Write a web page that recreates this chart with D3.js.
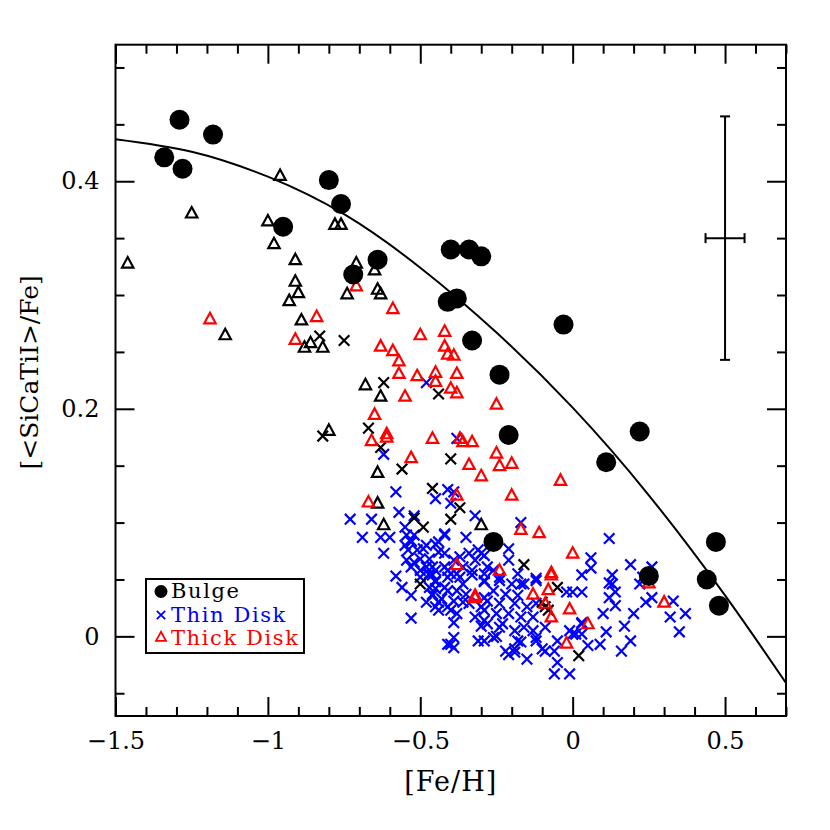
<!DOCTYPE html>
<html><head><meta charset="utf-8">
<script src="https://cdn.jsdelivr.net/npm/d3@7"></script>
<style>body{margin:0;background:#fff}</style>
</head><body><svg id="c" width="830" height="830"></svg>
<script>
// ---------- DATA ----------
const xMajorTicks = [-1.5, -1, -0.5, 0, 0.5];
const yMajorTicks = [0, 0.2, 0.4];
const xLabel = "[Fe/H]";
const yLabel = "[<SiCaTiI>/Fe]";
const legendLabels = ["Bulge", "Thin Disk", "Thick Disk"];

const bulge = [[-1.29,0.454],[-1.34,0.421],[-1.28,0.411],[-1.18,0.441],[-0.80,0.401],[-0.76,0.380],[-0.95,0.360],
[-0.64,0.331],[-0.72,0.318],[-0.40,0.340],[-0.34,0.340],[-0.30,0.334],[-0.41,0.294],[-0.38,0.297],[-0.33,0.260],
[-0.03,0.274],[-0.24,0.230],[-0.21,0.177],[0.22,0.180],[0.11,0.153],[-0.26,0.083],[0.25,0.053],[0.47,0.083],[0.44,0.050],[0.48,0.027]];

const thinDisk = [[-0.48,0.223],[-0.62,0.160],[-0.58,0.127],[-0.38,0.174],[-0.45,0.121],[-0.41,0.129],[-0.39,0.127],[-0.57,0.109],
[-0.73,0.103],[-0.66,0.103],[-0.52,0.106],[-0.40,0.117],[-0.32,0.106],[-0.17,0.100],[0.12,0.086],[-0.35,0.087],
[-0.69,0.087],[-0.63,0.087],[-0.60,0.087],[-0.62,0.073],[-0.55,0.096],[-0.545,0.089],[-0.53,0.084],[-0.55,0.080],[-0.52,0.089],
[-0.54,0.076],[-0.49,0.077],[-0.45,0.081],[-0.42,0.089],[-0.51,0.076],[-0.48,0.080],[-0.44,0.083],[-0.545,0.067],[-0.52,0.065],
[-0.47,0.068],[-0.44,0.074],[-0.53,0.061],[-0.50,0.058],[-0.46,0.061],[-0.47,0.055],[-0.45,0.049],[-0.41,0.058],[-0.45,0.042],
[-0.42,0.043],[-0.58,0.053],[-0.56,0.043],[-0.53,0.036],[-0.48,0.030],[-0.44,0.030],[-0.45,0.026],[-0.41,0.026],[-0.53,0.016],
[-0.41,-0.007],[-0.46,0.037],[-0.42,0.090],[-0.53,0.083],[-0.50,0.068],[-0.42,0.073],[-0.48,0.061],[-0.45,0.058],[-0.42,0.061],
[-0.50,0.052],[-0.47,0.054],[-0.40,0.055],[-0.47,0.043],[-0.45,0.048],[-0.41,0.040],[-0.46,0.036],[-0.43,0.033],[-0.44,0.023],
[-0.46,0.054],[-0.41,0.052],[-0.39,-0.001],[-0.39,-0.010],
[-0.39,0.067],[-0.37,0.070],[-0.34,0.073],[-0.31,0.076],[-0.32,0.067],[-0.29,0.071],[-0.36,0.061],[-0.33,0.058],[-0.29,0.055],
[-0.37,0.052],[-0.38,0.055],[-0.36,0.046],[-0.38,0.040],[-0.35,0.037],[-0.36,0.030],[-0.39,0.031],[-0.40,0.023],[-0.38,0.020],
[-0.39,0.012],[-0.33,0.054],[-0.29,0.049],[-0.30,0.026],[-0.32,0.017],[-0.29,0.014],[-0.29,0.023],[-0.31,-0.004],[-0.34,0.029],
[-0.29,0.034],[-0.30,0.073],[-0.28,0.061],[-0.26,0.058],[-0.21,0.077],[-0.21,0.067],[-0.24,0.052],[-0.17,0.046],[-0.12,0.049],
[-0.25,0.000],[-0.40,-0.007],[-0.29,0.048],[-0.24,0.049],[-0.20,0.046],[-0.16,0.046],[-0.12,0.051],[-0.18,0.055],[-0.26,0.040],
[-0.22,0.037],[-0.18,0.036],[-0.28,0.031],[-0.24,0.029],[-0.19,0.029],[-0.15,0.026],[-0.12,0.029],[-0.25,0.020],[-0.21,0.020],
[-0.17,0.017],[-0.13,0.017],[-0.28,0.011],[-0.23,0.011],[-0.30,0.009],[-0.24,0.008],[-0.19,0.005],[-0.16,0.008],[-0.13,0.005],
[-0.09,0.008],[-0.29,-0.004],[-0.26,-0.001],[-0.18,-0.004],[-0.12,-0.001],[-0.22,-0.013],[-0.19,-0.014],[-0.21,-0.016],[-0.19,-0.011],
[-0.17,-0.005],[-0.15,-0.020],[-0.12,-0.004],[-0.10,-0.011],[-0.09,-0.013],[-0.06,-0.013],[-0.05,-0.004],[-0.05,-0.023],[-0.06,-0.033],
[-0.01,-0.033],[-0.01,0.005],[0.01,0.002],
[0.03,0.054],[0.13,0.054],[0.13,0.046],[0.12,0.034],[0.14,0.027],[0.10,0.020],[0.03,0.012],[-0.02,0.039],[0.00,0.039],[0.03,0.039],
[0.20,0.020],[0.17,0.009],[0.11,0.004],[0.05,-0.008],[0.09,-0.007],[0.19,-0.004],[0.16,-0.013],[0.24,0.030],[0.26,0.034],[0.32,0.017],
[0.35,0.004],[0.37,0.020],[0.33,0.031],[0.23,0.052],[0.06,0.069],[0.06,0.060],[0.12,0.047],[0.14,0.039],[0.19,0.063],[0.22,0.046],
[0.26,0.061],[0.00,0.002],[0.03,0.002],[0.03,0.011]];

const thickDisk = [[-1.19,0.279],[-0.84,0.281],[-0.91,0.261],[-0.71,0.308],[-0.59,0.288],[-0.50,0.265],[-0.63,0.255],[-0.59,0.251],
[-0.57,0.242],[-0.57,0.231],[-0.51,0.229],[-0.45,0.232],[-0.45,0.224],[-0.55,0.211],[-0.42,0.268],[-0.42,0.255],[-0.41,0.248],
[-0.39,0.247],[-0.38,0.231],[-0.40,0.218],[-0.38,0.214],[-0.25,0.204],[-0.65,0.195],[-0.61,0.178],[-0.61,0.175],[-0.66,0.172],
[-0.46,0.174],[-0.53,0.157],[-0.37,0.174],[-0.36,0.171],[-0.33,0.171],[-0.25,0.161],[-0.34,0.151],[-0.24,0.150],[-0.20,0.152],
[-0.30,0.141],[-0.04,0.137],[-0.20,0.124],[-0.38,0.124],[-0.67,0.118],[-0.17,0.094],[-0.11,0.091],[0.00,0.073],[-0.38,0.063],
[-0.24,0.058],[-0.07,0.054],[-0.32,0.036],[-0.32,0.034],[-0.13,0.037],[-0.08,0.041],[-0.09,0.029],[-0.01,0.024],[-0.07,0.017],
[0.05,0.011],[-0.02,-0.006],[0.25,0.047],[0.30,0.030],[-0.07,0.056]];

// comparison samples drawn in black (no legend entry)
const otherThin = [[-0.83,0.264],[-0.75,0.260],[-0.62,0.223],[-0.44,0.213],[-0.82,0.176],[-0.67,0.183],[-0.63,0.166],[-0.56,0.147],
[-0.46,0.130],[-0.40,0.156],[-0.37,0.113],[-0.52,0.104],[-0.49,0.096],[-0.40,0.103],[-0.16,0.063],[-0.50,0.046],[-0.05,0.043],
[-0.10,0.030],[-0.09,0.026],[-0.08,0.023],[0.02,-0.017]];
const otherThick = [[-1.46,0.328],[-1.25,0.372],[-0.96,0.405],[-1.00,0.365],[-0.98,0.345],[-0.91,0.331],[-0.78,0.362],[-0.76,0.362],
[-0.71,0.328],[-0.65,0.322],[-0.91,0.312],[-0.90,0.302],[-0.93,0.295],[-0.74,0.301],[-0.64,0.305],[-0.63,0.301],[-1.14,0.265],
[-0.89,0.278],[-0.86,0.258],[-0.88,0.254],[-0.82,0.254],[-0.80,0.181],[-0.68,0.221],[-0.63,0.211],[-0.64,0.144],[-0.64,0.117],
[-0.62,0.098],[-0.30,0.098]];

// model curve
const curveFeH = [-1.5, -1.25, -1.0, -0.75, -0.5, -0.25, 0, 0.25, 0.5, 0.7];
const curveAlpha = [0.437, 0.426, 0.404, 0.371, 0.324, 0.267, 0.201, 0.124, 0.036, -0.041];

// typical error bar
const errCenter = [0.5, 0.35];
const errHalf = [0.064, 0.107];

// ---------- CHART ----------
const svg = d3.select("#c");
const L = 115.5, R = 786, T = 44.7, B = 716;
const x = d3.scaleLinear().domain([-1.5, 0.7]).range([L, R]);
const y = d3.scaleLinear().domain([-0.07, 0.52]).range([B, T]);
const FONT = "DejaVu Serif";
const fmt = d3.format("~g");

svg.append("rect").attr("width", 830).attr("height", 830).attr("fill", "#fff");

const xMinor = d3.range(-15, 8).map(v => v / 10).filter(v => !xMajorTicks.some(m => Math.abs(m - v) < 1e-9));
const yMinor = d3.range(-1, 11).map(v => v * 0.05).filter(v => !yMajorTicks.some(m => Math.abs(m - v) < 1e-9));

function styleAxis(g) {
  g.select(".domain").remove();
  g.selectAll("line").attr("stroke", "#000").attr("stroke-width", 2);
  g.selectAll("text").style("font-family", FONT).style("font-size", "24px").attr("fill", "#000");
}
const axes = svg.append("g");
axes.append("g").attr("transform", `translate(0,${B})`)
  .call(d3.axisBottom(x).tickValues(xMajorTicks).tickSize(-19).tickPadding(16).tickFormat(fmt)).call(styleAxis);
axes.append("g").attr("transform", `translate(0,${B})`)
  .call(d3.axisBottom(x).tickValues(xMinor).tickSize(-9).tickFormat("")).call(styleAxis);
axes.append("g").attr("transform", `translate(0,${T})`)
  .call(d3.axisTop(x).tickValues(xMajorTicks).tickSize(-19).tickFormat("")).call(styleAxis);
axes.append("g").attr("transform", `translate(0,${T})`)
  .call(d3.axisTop(x).tickValues(xMinor).tickSize(-9).tickFormat("")).call(styleAxis);
axes.append("g").attr("transform", `translate(${L},0)`)
  .call(d3.axisLeft(y).tickValues(yMajorTicks).tickSize(-19).tickPadding(16).tickFormat(fmt)).call(styleAxis);
axes.append("g").attr("transform", `translate(${L},0)`)
  .call(d3.axisLeft(y).tickValues(yMinor).tickSize(-9).tickFormat("")).call(styleAxis);
axes.append("g").attr("transform", `translate(${R},0)`)
  .call(d3.axisRight(y).tickValues(yMajorTicks).tickSize(-19).tickFormat("")).call(styleAxis);
axes.append("g").attr("transform", `translate(${R},0)`)
  .call(d3.axisRight(y).tickValues(yMinor).tickSize(-9).tickFormat("")).call(styleAxis);

svg.append("clipPath").attr("id", "clip").append("rect")
  .attr("x", L).attr("y", T).attr("width", R - L).attr("height", B - T);
const plot = svg.append("g").attr("clip-path", "url(#clip)");

const crossPath = s => `M${-s},${-s}L${s},${s}M${-s},${s}L${s},${-s}`;
const triPath = (w, h) => `M0,${-h * 0.58}L${w},${h * 0.42}L${-w},${h * 0.42}Z`;

function crosses(data, color, s) {
  plot.append("g").selectAll("path").data(data).join("path")
    .attr("transform", d => `translate(${x(d[0])},${y(d[1])})`)
    .attr("d", crossPath(s)).attr("fill", "none").attr("stroke", color).attr("stroke-width", 2.2);
}
function triangles(data, color) {
  plot.append("g").selectAll("path").data(data).join("path")
    .attr("transform", d => `translate(${x(d[0])},${y(d[1])})`)
    .attr("d", triPath(5.7, 10.5)).attr("fill", "none").attr("stroke", color).attr("stroke-width", 2.2)
    .attr("stroke-linejoin", "miter");
}
crosses(thinDisk, "#0000ff", 5.3);
crosses(otherThin, "#000", 5.3);
triangles(otherThick, "#000");
triangles(thickDisk, "#ff0000");

const line = d3.line().x((d, i) => x(curveFeH[i])).y(d => y(d)).curve(d3.curveNatural);
plot.append("path").attr("d", line(curveAlpha)).attr("fill", "none").attr("stroke", "#000").attr("stroke-width", 2);

plot.append("g").selectAll("circle").data(bulge).join("circle")
  .attr("cx", d => x(d[0])).attr("cy", d => y(d[1])).attr("r", 10).attr("fill", "#000");

const eb = svg.append("g").attr("stroke", "#000").attr("stroke-width", 2);
const ex = x(errCenter[0]), ey = y(errCenter[1]);
const ex0 = x(errCenter[0] - errHalf[0]), ex1 = x(errCenter[0] + errHalf[0]);
const ey0 = y(errCenter[1] - errHalf[1]), ey1 = y(errCenter[1] + errHalf[1]);
eb.append("line").attr("x1", ex).attr("x2", ex).attr("y1", ey0).attr("y2", ey1);
eb.append("line").attr("x1", ex0).attr("x2", ex1).attr("y1", ey).attr("y2", ey);
eb.append("line").attr("x1", ex - 5).attr("x2", ex + 5).attr("y1", ey0).attr("y2", ey0);
eb.append("line").attr("x1", ex - 5).attr("x2", ex + 5).attr("y1", ey1).attr("y2", ey1);
eb.append("line").attr("x1", ex0).attr("x2", ex0).attr("y1", ey - 5).attr("y2", ey + 5);
eb.append("line").attr("x1", ex1).attr("x2", ex1).attr("y1", ey - 5).attr("y2", ey + 5);

svg.append("rect").attr("x", L).attr("y", T).attr("width", R - L).attr("height", B - T)
  .attr("fill", "none").attr("stroke", "#000").attr("stroke-width", 2);

svg.append("text").attr("x", (L + R) / 2).attr("y", 791).attr("text-anchor", "middle")
  .style("font-family", FONT).style("font-size", "27px").style("letter-spacing", "1px").text(xLabel);
svg.append("text").attr("transform", `translate(38,${(T + B) / 2 - 8}) rotate(-90)`).attr("text-anchor", "middle")
  .style("font-family", FONT).style("font-size", "25px").text(yLabel);

const lg = svg.append("g");
lg.append("rect").attr("x", 146).attr("y", 579).attr("width", 158).attr("height", 74)
  .attr("fill", "#fff").attr("stroke", "#000").attr("stroke-width", 2);
const legColors = ["#000", "#0000ff", "#ff0000"];
const legY = [598, 621.5, 644.5];
legendLabels.forEach((t, i) => {
  const my = legY[i] - 6.5;
  if (i === 0) lg.append("circle").attr("cx", 161).attr("cy", my).attr("r", 6.5).attr("fill", "#000");
  if (i === 1) lg.append("path").attr("transform", `translate(161,${my})`).attr("d", crossPath(4.2))
    .attr("stroke", legColors[i]).attr("stroke-width", 1.8).attr("fill", "none");
  if (i === 2) lg.append("path").attr("transform", `translate(161,${my - 1})`).attr("d", triPath(5, 9))
    .attr("stroke", legColors[i]).attr("stroke-width", 1.8).attr("fill", "none");
  lg.append("text").attr("x", 171).attr("y", legY[i]).attr("fill", legColors[i])
    .style("font-family", FONT).style("font-size", "21px").style("letter-spacing", "1.6px").text(t);
});
</script></body></html>
